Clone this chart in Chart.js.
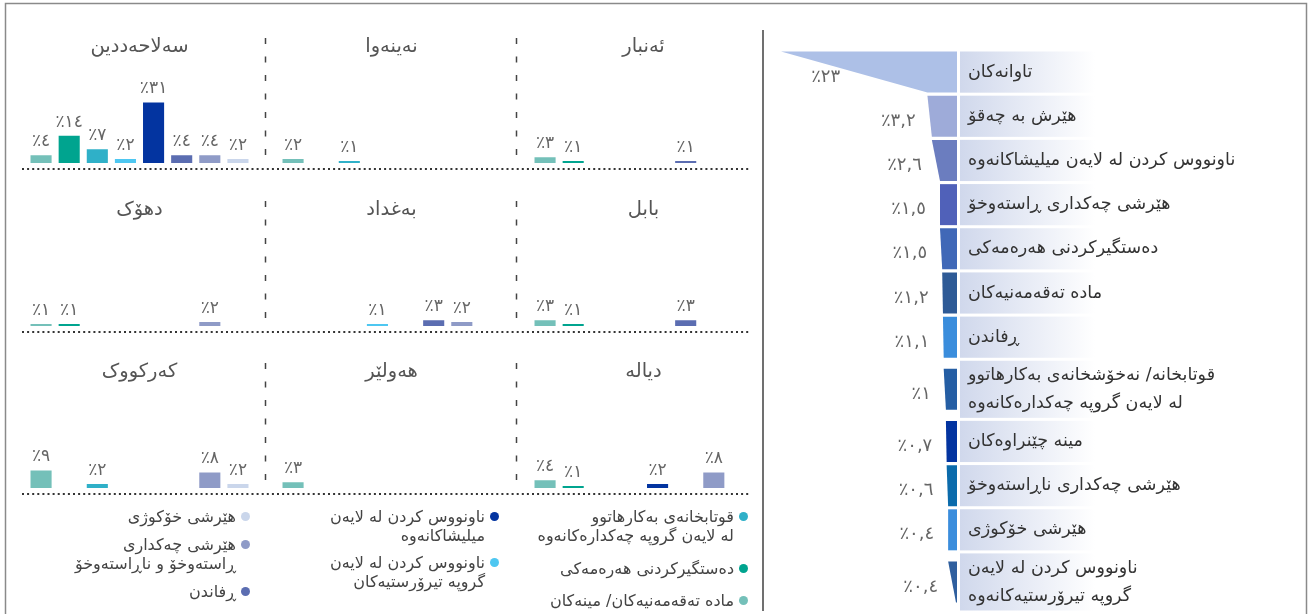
<!DOCTYPE html>
<html><head><meta charset="utf-8">
<script src="https://cdn.jsdelivr.net/npm/chart.js@4.4.1/dist/chart.umd.min.js"></script>
<style>
html,body{margin:0;padding:0;background:#fff;}
#stage{position:relative;width:1310px;height:614px;overflow:hidden;font-family:'DejaVu Sans',sans-serif;}
#stage canvas{position:absolute;}
.lgcol{position:absolute;top:507px;direction:rtl;width:250px;}
.lgitem{display:flex;align-items:flex-start;font-size:16px;line-height:19px;color:#444;}
.dot{width:9px;height:9px;border-radius:50%;margin-top:5px;margin-left:5px;flex:none;}
</style></head><body>
<div id="stage"><canvas id="decor" width="1310" height="614" style="left:0;top:0"></canvas></div>
<script>
// ---------------- DATA ----------------
const categories = ['مادە تەقەمەنیەکان/ مینەکان','دەستگیرکردنی هەرەمەکی','قوتابخانەی بەکارهاتوو لە لایەن گروپە چەکدارەکانەوە','ناونووس کردن لە لایەن گروپە تیرۆرستیەکان','ناونووس کردن لە لایەن میلیشاکانەوە','ڕفاندن','هێرشی چەکداری ڕاستەوخۆ و ناڕاستەوخۆ','هێرشی خۆکوژی'];
const categoryColors = ['#74c0b9','#00a48f','#2fb0c8','#4ec7f1','#0334a0','#5b6db1','#8f9bc7','#cad6eb'];
const governorates = ['سەلاحەددین','نەینەوا','ئەنبار','دهۆک','بەغداد','بابل','کەرکووک','هەولێر','دیالە'];
const salahaddinValues = [4,14,7,2,31,4,4,2];
const ninevehValues    = [2,0,1,0,0,0,0,0];
const anbarValues      = [3,1,0,0,0,1,0,0];
const duhokValues      = [1,1,0,0,0,0,2,0];
const baghdadValues    = [0,0,0,1,0,3,2,0];
const babylonValues    = [3,1,0,0,0,3,0,0];
const kirkukValues     = [9,0,2,0,0,0,8,2];
const erbilValues      = [3,0,0,0,0,0,0,0];
const diyalaValues     = [4,1,0,0,2,0,8,0];
const legendLines = [
  ['مادە تەقەمەنیەکان/ مینەکان'],
  ['دەستگیرکردنی هەرەمەکی'],
  ['قوتابخانەی بەکارهاتوو','لە لایەن گروپە چەکدارەکانەوە'],
  ['ناونووس کردن لە لایەن','گروپە تیرۆرستیەکان'],
  ['ناونووس کردن لە لایەن','میلیشاکانەوە'],
  ['ڕفاندن'],
  ['هێرشی چەکداری','ڕاستەوخۆ و ناڕاستەوخۆ'],
  ['هێرشی خۆکوژی']
];
const legendColumns = [[2,1,0],[4,3],[7,6,5]];
const funnelLabels = [
  ['تاوانەکان'],
  ['هێرش بە چەقۆ'],
  ['ناونووس کردن لە لایەن میلیشاکانەوە'],
  ['هێرشی چەکداری ڕاستەوخۆ'],
  ['دەستگیرکردنی هەرەمەکی'],
  ['مادە تەقەمەنیەکان'],
  ['ڕفاندن'],
  ['قوتابخانە/ نەخۆشخانەی بەکارهاتوو','لە لایەن گروپە چەکدارەکانەوە'],
  ['مینە چێنراوەکان'],
  ['هێرشی چەکداری ناڕاستەوخۆ'],
  ['هێرشی خۆکوژی'],
  ['ناونووس کردن لە لایەن','گروپە تیرۆرستیەکانەوە']
];
const funnelValues = [23, 3.2, 2.6, 1.5, 1.5, 1.2, 1.1, 1, 0.7, 0.6, 0.4, 0.4];
const funnelColors = ['#adc0e7','#9eabd9','#6b7dbf','#5061b9','#4068b7','#2e5a96','#3a8ddc','#255ea4','#0334a0','#0b6bab','#3a8ddc','#2f5f9e'];

// ---------------- HELPERS ----------------
const FONT = "'DejaVu Sans', sans-serif";
const AR = '٠١٢٣٤٥٦٧٨٩';
function arPct(v){ return '٪' + String(v).replace('.', ',').replace(/\d/g, d => AR[+d]); }
const stage = document.getElementById('stage');
function addCanvas(left, top, w, h){
  const c = document.createElement('canvas');
  c.width = w; c.height = h; c.style.left = left + 'px'; c.style.top = top + 'px';
  stage.appendChild(c); return c;
}

// ---------------- DECORATION ----------------
const colLefts = [27, 279, 531];
const rowTops = [29, 192, 354];
const cellW = 225, cellH = 136;
(function(){
  const d = document.getElementById('decor').getContext('2d');
  d.strokeStyle = '#8a8a8a'; d.lineWidth = 1.5; d.strokeRect(5.5, 3.5, 1301, 700);
  d.strokeStyle = '#707070'; d.lineWidth = 2;
  d.beginPath(); d.moveTo(763, 30); d.lineTo(763, 611); d.stroke();
  rowTops.forEach(t => {
    const base = t + cellH - 2;
    d.strokeStyle = '#444'; d.lineWidth = 1.5; d.setLineDash([6, 12.5]);
    [265.5, 516.5].forEach(x => { d.beginPath(); d.moveTo(x, t + 9); d.lineTo(x, base + 3); d.stroke(); });
    d.strokeStyle = '#333'; d.lineWidth = 2; d.setLineDash([2, 3.1]);
    d.beginPath(); d.moveTo(22, base + 6); d.lineTo(750, base + 6); d.stroke();
  });
  d.setLineDash([]);
})();

// ---------------- SMALL MULTIPLES ----------------
const gridValues = [salahaddinValues, ninevehValues, anbarValues, duhokValues, baghdadValues, babylonValues, kirkukValues, erbilValues, diyalaValues];
const valueLabelPlugin = {
  id: 'valueLabels',
  afterDatasetsDraw(chart){
    const ctx = chart.ctx, meta = chart.getDatasetMeta(0);
    ctx.save();
    ctx.font = '17px ' + FONT; ctx.fillStyle = '#666'; ctx.textAlign = 'center'; ctx.textBaseline = 'alphabetic';
    meta.data.forEach((el, i) => {
      const v = chart.data.datasets[0].data[i];
      if (v > 0) ctx.fillText(arPct(v), el.x, el.y - 9);
    });
    ctx.restore();
  }
};
gridValues.forEach((vals, k) => {
  const r = Math.floor(k / 3), c = k % 3;
  const cv = addCanvas(colLefts[c], rowTops[r], cellW, cellH);
  new Chart(cv, {
    type: 'bar',
    data: { labels: categories, datasets: [{ data: vals, backgroundColor: categoryColors, categoryPercentage: 0.75, barPercentage: 1 }] },
    options: {
      responsive: false, animation: false,
      layout: { padding: { top: 0, bottom: 2, left: 0, right: 0 } },
      plugins: {
        legend: { display: false }, tooltip: { enabled: false },
        title: { display: true, text: governorates[k], color: '#555', font: { family: FONT, size: 19.5, weight: 'normal', lineHeight: 1.2 }, padding: { top: 6, bottom: 7 } }
      },
      scales: { x: { display: false }, y: { display: false, min: 0, max: 50 } }
    },
    plugins: [valueLabelPlugin]
  });
});

// ---------------- LEGEND ----------------
const legendRights = [748, 499, 250];
const legendGaps = [13.5, 8, 9];
legendColumns.forEach((col, ci) => {
  const div = document.createElement('div');
  div.className = 'lgcol';
  div.style.right = (1310 - legendRights[ci]) + 'px';
  col.forEach(idx => {
    const it = document.createElement('div'); it.className = 'lgitem';
    it.style.marginBottom = legendGaps[ci] + 'px';
    const dot = document.createElement('span'); dot.className = 'dot'; dot.style.background = categoryColors[idx];
    const tx = document.createElement('span'); tx.innerHTML = legendLines[idx].join('<br>');
    it.appendChild(dot); it.appendChild(tx); div.appendChild(it);
  });
  stage.appendChild(div);
});

// ---------------- FUNNEL ----------------
const rowWeights = funnelLabels.map(l => 1 + 0.36 * (l.length - 1));
const rowStart = [], rowEnd = [];
let acc = 0;
rowWeights.forEach(w => { rowStart.push(acc); acc += w; rowEnd.push(acc); });
const totalRows = acc;
const BASE = -0.8;
const funnelPlugin = {
  id: 'funnel',
  beforeDatasetsDraw(chart){
    const ctx = chart.ctx, ys = chart.scales.y, area = chart.chartArea;
    ctx.save();
    funnelLabels.forEach((lines, i) => {
      const top = ys.getPixelForValue(rowStart[i]) + 1.5, bot = ys.getPixelForValue(rowEnd[i]) - 1.5;
      const x0 = area.right + 3;
      const g = ctx.createLinearGradient(x0, 0, x0 + 135, 0);
      g.addColorStop(0, 'rgb(208,216,236)'); g.addColorStop(1, 'rgba(255,255,255,1)');
      ctx.fillStyle = g; ctx.fillRect(x0, top, chart.width - x0, bot - top);
    });
    ctx.restore();
  },
  beforeDatasetDraw(chart){
    const ctx = chart.ctx, meta = chart.getDatasetMeta(0);
    ctx.save();
    meta.data.forEach((el, i) => {
      const p = el.getProps(['x','y','base','height'], true);
      const nx = i < meta.data.length - 1 ? meta.data[i + 1].getProps(['x'], true).x : p.base - 1;
      const t = p.y - p.height / 2, b = p.y + p.height / 2;
      ctx.beginPath(); ctx.moveTo(p.base, t); ctx.lineTo(p.x, t); ctx.lineTo(nx, b); ctx.lineTo(p.base, b); ctx.closePath();
      ctx.fillStyle = funnelColors[i]; ctx.fill();
    });
    ctx.restore();
    return false;
  },
  afterDatasetsDraw(chart){
    const ctx = chart.ctx, meta = chart.getDatasetMeta(0), area = chart.chartArea;
    ctx.save();
    meta.data.forEach((el, i) => {
      const p = el.getProps(['x','y','base'], true);
      const nx = i < meta.data.length - 1 ? meta.data[i + 1].getProps(['x'], true).x : p.base - 1;
      const leftMid = (p.x + nx) / 2;
      ctx.font = '18px ' + FONT; ctx.fillStyle = '#666'; ctx.textAlign = 'right'; ctx.textBaseline = 'middle';
      ctx.fillText(arPct(funnelValues[i]), leftMid - 14, p.y + 5);
      ctx.font = '17.5px ' + FONT; ctx.fillStyle = '#333'; ctx.textAlign = 'left';
      const lines = funnelLabels[i], lh = 28;
      lines.forEach((ln, j) => ctx.fillText(ln, area.right + 11, p.y + (j - (lines.length - 1) / 2) * lh));
    });
    ctx.restore();
  }
};
const fcv = addCanvas(770, 0, 535, 614);
new Chart(fcv, {
  type: 'bar',
  data: { datasets: [{
    data: funnelValues.map((v, i) => ({ x: v, y: (rowStart[i] + rowEnd[i]) / 2 })),
    backgroundColor: funnelColors, base: BASE, barThickness: 41
  }] },
  options: {
    indexAxis: 'y', responsive: false, animation: false,
    layout: { padding: { left: 11, right: 348, top: 50, bottom: 2 } },
    plugins: { legend: { display: false }, tooltip: { enabled: false } },
    scales: {
      x: { type: 'linear', reverse: true, min: BASE, max: 23, display: false, offset: false },
      y: { type: 'linear', reverse: true, min: 0, max: totalRows, display: false, offset: false }
    }
  },
  plugins: [funnelPlugin]
});
</script>
</body></html>
